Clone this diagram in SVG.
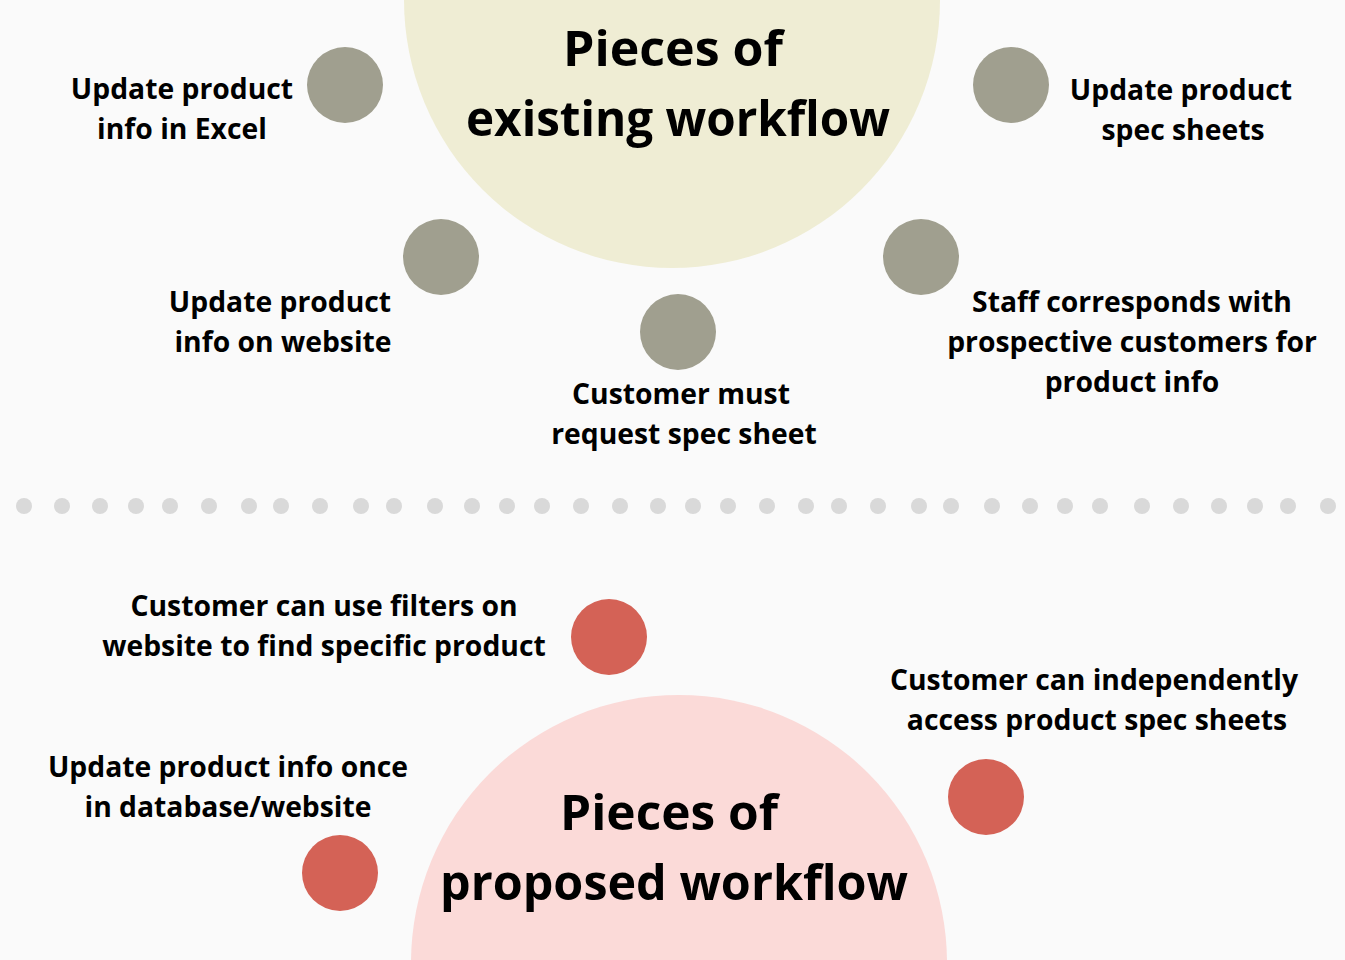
<svg xmlns="http://www.w3.org/2000/svg" width="1345" height="960" viewBox="0 0 1345 960">
<style>
.lbl{font-family:"Open Sans","Noto Sans","Liberation Sans",sans-serif;font-weight:700;font-size:28.3px;fill:#000;text-anchor:middle}
.ttl{font-family:"Open Sans","Noto Sans","Liberation Sans",sans-serif;font-weight:700;font-size:49px;fill:#000;text-anchor:middle}
.old{fill:#a09f8f}
.new{fill:#d46256}
.dot{fill:#d9d9d9}
</style>
<rect width="1345" height="960" fill="#fafafa"/>
<g id="existing-hub">
<circle cx="672" cy="0" r="268" fill="#efedd4"/>
<text class="ttl" x="673" y="66" textLength="220" lengthAdjust="spacingAndGlyphs">Pieces of</text>
<text class="ttl" x="678" y="136" textLength="424" lengthAdjust="spacingAndGlyphs">existing workflow</text>
</g>
<g id="proposed-hub">
<circle cx="679" cy="963" r="268" fill="#fbdad8"/>
<text class="ttl" x="669" y="830" textLength="218" lengthAdjust="spacingAndGlyphs">Pieces of</text>
<text class="ttl" x="674" y="900" textLength="468" lengthAdjust="spacingAndGlyphs">proposed workflow</text>
</g>
<g id="separator">
<circle class="dot" cx="24" cy="506" r="8"/><circle class="dot" cx="62" cy="506" r="8"/><circle class="dot" cx="100" cy="506" r="8"/><circle class="dot" cx="136" cy="506" r="8"/><circle class="dot" cx="170" cy="506" r="8"/><circle class="dot" cx="209" cy="506" r="8"/><circle class="dot" cx="249" cy="506" r="8"/><circle class="dot" cx="281" cy="506" r="8"/><circle class="dot" cx="320" cy="506" r="8"/><circle class="dot" cx="361" cy="506" r="8"/><circle class="dot" cx="394" cy="506" r="8"/><circle class="dot" cx="435" cy="506" r="8"/><circle class="dot" cx="472" cy="506" r="8"/><circle class="dot" cx="507" cy="506" r="8"/><circle class="dot" cx="542" cy="506" r="8"/><circle class="dot" cx="581" cy="506" r="8"/><circle class="dot" cx="620" cy="506" r="8"/><circle class="dot" cx="658" cy="506" r="8"/><circle class="dot" cx="693" cy="506" r="8"/><circle class="dot" cx="728" cy="506" r="8"/><circle class="dot" cx="767" cy="506" r="8"/><circle class="dot" cx="806" cy="506" r="8"/><circle class="dot" cx="839" cy="506" r="8"/><circle class="dot" cx="878" cy="506" r="8"/><circle class="dot" cx="919" cy="506" r="8"/><circle class="dot" cx="951" cy="506" r="8"/><circle class="dot" cx="992" cy="506" r="8"/><circle class="dot" cx="1030" cy="506" r="8"/><circle class="dot" cx="1065" cy="506" r="8"/><circle class="dot" cx="1100" cy="506" r="8"/><circle class="dot" cx="1142" cy="506" r="8"/><circle class="dot" cx="1181" cy="506" r="8"/><circle class="dot" cx="1219" cy="506" r="8"/><circle class="dot" cx="1255" cy="506" r="8"/><circle class="dot" cx="1288" cy="506" r="8"/><circle class="dot" cx="1328" cy="506" r="8"/>
</g>
<g id="connectors"></g>
<g id="node-excel">
<circle class="old" cx="345" cy="85" r="38"/>
<text class="lbl" x="182" y="99">Update product</text>
<text class="lbl" x="182" y="139">info in Excel</text>
</g>
<g id="node-specsheets">
<circle class="old" cx="1011" cy="85" r="38"/>
<text class="lbl" x="1181" y="100">Update product</text>
<text class="lbl" x="1183" y="140">spec sheets</text>
</g>
<g id="node-website">
<circle class="old" cx="441" cy="257" r="38"/>
<text class="lbl" x="280" y="312">Update product</text>
<text class="lbl" x="283" y="352">info on website</text>
</g>
<g id="node-request">
<circle class="old" cx="678" cy="332" r="38"/>
<text class="lbl" x="681" y="404">Customer must</text>
<text class="lbl" x="684" y="444">request spec sheet</text>
</g>
<g id="node-staff">
<circle class="old" cx="921" cy="257" r="38"/>
<text class="lbl" x="1132" y="312">Staff corresponds with</text>
<text class="lbl" x="1132" y="352">prospective customers for</text>
<text class="lbl" x="1132" y="392">product info</text>
</g>
<g id="node-filters">
<circle class="new" cx="609" cy="637" r="38"/>
<text class="lbl" x="324" y="616">Customer can use filters on</text>
<text class="lbl" x="324" y="656">website to find specific product</text>
</g>
<g id="node-independent">
<circle class="new" cx="986" cy="797" r="38"/>
<text class="lbl" x="1094" y="690">Customer can independently</text>
<text class="lbl" x="1097" y="730">access product spec sheets</text>
</g>
<g id="node-database">
<circle class="new" cx="340" cy="873" r="38"/>
<text class="lbl" x="228" y="777">Update product info once</text>
<text class="lbl" x="228" y="817">in database/website</text>
</g>
</svg>
